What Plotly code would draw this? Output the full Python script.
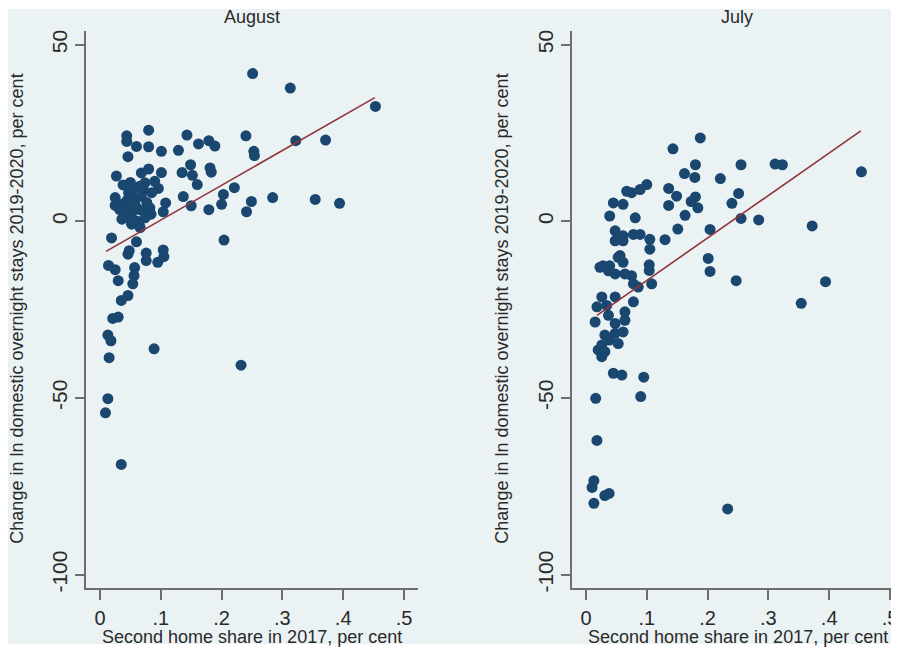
import plotly.graph_objects as go

# ---------------- data ----------------
aug_x = [0.251, 0.313, 0.453, 0.240, 0.322, 0.371, 0.253, 0.254, 0.221, 0.284,
         0.354, 0.394, 0.249, 0.241, 0.204, 0.203, 0.200, 0.179, 0.143, 0.162,
         0.179, 0.189, 0.129, 0.101, 0.080, 0.044, 0.044, 0.060, 0.080, 0.046,
         0.149, 0.135, 0.152, 0.160, 0.181, 0.183, 0.137, 0.150, 0.101, 0.080,
         0.068, 0.027, 0.038, 0.096, 0.108, 0.104,
         0.090, 0.074, 0.025, 0.047, 0.058, 0.068, 0.077, 0.033, 0.041, 0.063,
         0.082, 0.036, 0.047, 0.060, 0.074, 0.052, 0.066, 0.085, 0.071, 0.052,
         0.025, 0.084, 0.052, 0.038, 0.065, 0.032, 0.043, 0.051, 0.065, 0.076,
         0.050, 0.056, 0.045, 0.070, 0.058, 0.040,
         0.019, 0.060, 0.046, 0.048, 0.076, 0.076, 0.104, 0.105, 0.095, 0.014,
         0.025, 0.030, 0.057, 0.056, 0.054, 0.046, 0.035, 0.021, 0.030, 0.013,
         0.018, 0.015, 0.089, 0.232, 0.013, 0.009, 0.035]
aug_y = [41.8, 37.7, 32.5, 24.2, 22.8, 23.0, 19.8, 18.6, 9.5, 6.7,
         6.2, 5.1, 5.6, 2.7, -5.3, 7.6, 4.8, 3.3, 24.4, 21.9,
         22.8, 21.3, 20.1, 19.8, 25.8, 24.2, 22.6, 21.2, 21.1, 18.3,
         16.0, 13.8, 13.0, 10.4, 15.1, 13.9, 7.0, 4.4, 13.8, 14.8,
         13.7, 12.8, 10.3, 9.3, 5.2, 2.7,
         11.3, 10.9, 6.7, 8.1, 6.2, 7.1, 5.3, 3.4, 3.8, 3.4,
         3.8, 0.6, 1.0, 0.1, 1.0, -0.8, -1.8, 8.1, 9.0, 8.1,
         4.5, 2.0, 2.4, 5.0, 9.9, 3.4, 2.0, 0.1, -1.3, 1.5,
         11.0, 9.5, 6.0, 3.0, 4.5, 2.5,
         -4.7, -5.8, -9.3, -8.3, -9.0, -11.1, -8.1, -10.0, -11.6, -12.5,
         -13.7, -16.8, -13.1, -15.4, -17.7, -21.0, -22.4, -27.5, -27.1, -32.2,
         -33.8, -38.6, -36.1, -40.7, -50.2, -54.2, -68.8]

jul_x = [0.188, 0.143, 0.180, 0.179, 0.162, 0.255, 0.311, 0.323, 0.453, 0.221,
         0.136, 0.149, 0.136, 0.180, 0.173, 0.184, 0.163, 0.251, 0.240, 0.255,
         0.284, 0.372, 0.204, 0.151, 0.130, 0.201, 0.204, 0.247, 0.394, 0.354,
         0.100, 0.089, 0.075, 0.067, 0.045, 0.061, 0.039, 0.081, 0.048, 0.061,
         0.078, 0.089, 0.105, 0.048, 0.061, 0.105, 0.056, 0.028, 0.039, 0.104,
         0.104, 0.108,
         0.053, 0.061, 0.023, 0.037, 0.048, 0.064, 0.075, 0.078, 0.086, 0.026,
         0.048, 0.018, 0.034, 0.078, 0.064, 0.037, 0.015, 0.048, 0.064, 0.031,
         0.048, 0.061, 0.026, 0.039, 0.053, 0.020, 0.026, 0.031, 0.045, 0.059,
         0.095, 0.016, 0.090, 0.018, 0.013, 0.010, 0.031, 0.038, 0.013, 0.233]
jul_y = [23.6, 20.5, 16.0, 12.4, 13.5, 16.0, 16.2, 16.0, 14.0, 12.1,
         9.3, 7.1, 4.5, 6.9, 5.6, 3.8, 1.7, 7.9, 5.1, 0.8,
         0.4, -1.3, -2.3, -2.2, -5.2, -10.5, -14.2, -16.8, -17.1, -23.2,
         10.4, 9.0, 8.1, 8.5, 5.2, 4.8, 1.5, 1.0, -2.7, -4.1,
         -3.7, -3.7, -5.1, -5.5, -5.5, -7.9, -9.7, -12.6, -12.6, -12.3,
         -13.9, -17.7,
         -10.2, -11.6, -13.0, -14.0, -14.9, -14.9, -15.4, -17.7, -18.6, -21.4,
         -21.4, -24.2, -23.8, -22.8, -25.6, -26.6, -28.5, -28.9, -28.0, -32.2,
         -31.7, -31.3, -35.0, -33.6, -34.6, -36.4, -38.3, -36.9, -43.0, -43.5,
         -44.1, -50.1, -49.6, -62.0, -73.4, -75.3, -77.6, -77.0, -79.8, -81.4]

# fitted lines (end points)
aug_fit_x = [0.010, 0.452]
aug_fit_y = [-8.5, 35.0]
jul_fit_x = [0.018, 0.452]
jul_fit_y = [-26.6, 25.6]

panel_titles = ["August", "July"]
x_tickvals = [0, 0.1, 0.2, 0.3, 0.4, 0.5]
x_ticktext = ["0", ".1", ".2", ".3", ".4", ".5"]
y_tickvals = [50, 0, -50, -100]
y_ticktext = ["50", "0", "-50", "-100"]
x_title = "Second home share in 2017, per cent"
y_title = "Change in ln domestic overnight stays 2019-2020, per cent"

# ---------------- styling ----------------
# the page body adds an 8px margin, so the figure is drawn 8px smaller
OFF = 8
W, H = 899 - OFF, 651 - OFF
BG = "#eaf2f3"
NAVY = "#1a476f"
MAROON = "#90353b"
AXIS = "#6e6e6e"
TXT = "#2a2a2a"
FONT = "Liberation Sans, Arial, sans-serif"


def px_x(p):
    return max(0.0, min(1.0, (p - OFF) / W))


def px_y(p):
    return max(0.0, min(1.0, 1 - (p - OFF) / H))


fig = go.Figure()

panels = [
    dict(xs=aug_x, ys=aug_y, fx=aug_fit_x, fy=aug_fit_y, xa="x", ya="y"),
    dict(xs=jul_x, ys=jul_y, fx=jul_fit_x, fy=jul_fit_y, xa="x2", ya="y2"),
]
for p in panels:
    fig.add_trace(go.Scatter(x=p["xs"], y=p["ys"], mode="markers",
                             marker=dict(color=NAVY, size=11, line=dict(width=0)),
                             xaxis=p["xa"], yaxis=p["ya"], showlegend=False,
                             hoverinfo="skip"))
    fig.add_trace(go.Scatter(x=p["fx"], y=p["fy"], mode="lines",
                             line=dict(color=MAROON, width=1.6),
                             xaxis=p["xa"], yaxis=p["ya"], showlegend=False,
                             hoverinfo="skip"))

ytop, ybot = 30, 592
common_x = dict(tickvals=x_tickvals, ticktext=x_ticktext, showgrid=False,
                zeroline=False, showline=True, linecolor=AXIS, linewidth=1.5,
                ticks="outside", ticklen=10, tickwidth=1.5, tickcolor=AXIS,
                ticklabelstandoff=1,
                tickfont=dict(family=FONT, size=20, color=TXT))
common_y = dict(tickvals=y_tickvals, ticktext=y_ticktext, showgrid=True,
                gridcolor=BG, gridwidth=1.5, zeroline=False, showline=True,
                linecolor=AXIS, linewidth=1.5, ticks="outside", ticklen=9,
                tickwidth=1.5, tickcolor=AXIS, tickangle=-90,
                tickfont=dict(family=FONT, size=21, color=TXT),
                range=[-103.9, 53.9])

fig.update_layout(
    width=W, height=H,
    margin=dict(l=0, r=0, t=0, b=0),
    paper_bgcolor="white",
    plot_bgcolor="white",
    xaxis=dict(common_x, domain=[px_x(86), px_x(418)], range=[-0.023, 0.523],
               anchor="y"),
    yaxis=dict(common_y, domain=[px_y(ybot), px_y(ytop)], anchor="x"),
    xaxis2=dict(common_x, domain=[px_x(572), 1.0], range=[-0.023, 0.5148],
                anchor="y2"),
    yaxis2=dict(common_y, domain=[px_y(ybot), px_y(ytop)], anchor="x2"),
    shapes=[dict(type="rect", xref="paper", yref="paper", layer="below",
                 x0=0, x1=1.0, y0=px_y(648), y1=1.0,
                 fillcolor=BG, line=dict(width=0))],
)

ann = []
for title, cx, ytx in [(panel_titles[0], 252, 16), (panel_titles[1], 737, 16)]:
    ann.append(dict(text=title, x=px_x(cx), y=px_y(ytx), xref="paper", yref="paper",
                    showarrow=False, xanchor="center", yanchor="middle",
                    font=dict(family=FONT, size=18, color=TXT)))
for cx in [252, 738]:
    ann.append(dict(text=x_title, x=px_x(cx), y=px_y(641), xref="paper", yref="paper",
                    showarrow=False, xanchor="center", yanchor="middle",
                    font=dict(family=FONT, size=18, color=TXT)))
for cx in [17, 502]:
    ann.append(dict(text=y_title, x=px_x(cx), y=px_y(310), xref="paper", yref="paper",
                    showarrow=False, xanchor="center", yanchor="middle", textangle=-90,
                    font=dict(family=FONT, size=18, color=TXT)))
fig.update_layout(annotations=ann)

fig.write_html("out.html")
